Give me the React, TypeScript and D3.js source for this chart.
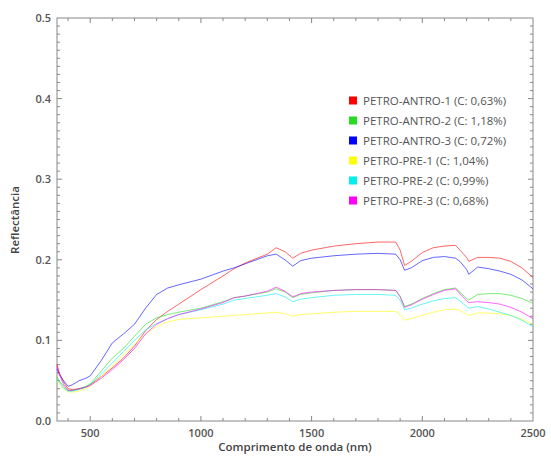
import React, { useEffect, useRef } from "react";
import * as d3 from "d3";

const wavelengths = [350, 360, 380, 400, 420, 450, 480, 500, 550, 600, 650, 700, 750, 800, 850, 900, 1000, 1100, 1150, 1200, 1300, 1340, 1380, 1415, 1450, 1500, 1600, 1700, 1800, 1880, 1900, 1920, 1950, 2000, 2050, 2100, 2150, 2170, 2200, 2210, 2250, 2300, 2350, 2400, 2450, 2500];

const antro1 = [0.07, 0.06, 0.048, 0.04, 0.039, 0.04, 0.042, 0.045, 0.055, 0.066, 0.078, 0.093, 0.112, 0.126, 0.136, 0.145, 0.163, 0.18, 0.189, 0.196, 0.207, 0.215, 0.21, 0.202, 0.208, 0.212, 0.217, 0.22, 0.222, 0.222, 0.212, 0.193, 0.198, 0.209, 0.215, 0.217, 0.218, 0.212, 0.203, 0.198, 0.203, 0.203, 0.202, 0.198, 0.19, 0.178];
const antro2 = [0.055, 0.05, 0.043, 0.038, 0.038, 0.04, 0.043, 0.046, 0.062, 0.078, 0.09, 0.105, 0.12, 0.128, 0.132, 0.135, 0.14, 0.148, 0.153, 0.155, 0.16, 0.164, 0.16, 0.153, 0.157, 0.159, 0.162, 0.163, 0.163, 0.162, 0.155, 0.142, 0.145, 0.152, 0.158, 0.163, 0.165, 0.16, 0.152, 0.15, 0.157, 0.158, 0.158, 0.156, 0.152, 0.146];
const antro3 = [0.065, 0.058, 0.05, 0.043, 0.045, 0.05, 0.053, 0.056, 0.075, 0.097, 0.108, 0.12, 0.14, 0.157, 0.165, 0.169, 0.176, 0.186, 0.19, 0.195, 0.205, 0.207, 0.2, 0.192, 0.199, 0.202, 0.205, 0.207, 0.208, 0.207, 0.2, 0.187, 0.19, 0.199, 0.203, 0.204, 0.202, 0.198, 0.188, 0.182, 0.191, 0.189, 0.186, 0.182, 0.175, 0.164];
const pre1 = [0.05, 0.046, 0.04, 0.036, 0.036, 0.037, 0.04, 0.043, 0.055, 0.068, 0.082, 0.095, 0.108, 0.117, 0.123, 0.126, 0.128, 0.13, 0.131, 0.132, 0.134, 0.135, 0.133, 0.13, 0.132, 0.133, 0.135, 0.136, 0.136, 0.136, 0.132, 0.125, 0.127, 0.131, 0.135, 0.138, 0.139, 0.137, 0.133, 0.131, 0.134, 0.134, 0.133, 0.131, 0.126, 0.12];
const pre2 = [0.052, 0.048, 0.041, 0.037, 0.037, 0.039, 0.042, 0.045, 0.058, 0.072, 0.086, 0.1, 0.113, 0.121, 0.127, 0.132, 0.138, 0.145, 0.15, 0.152, 0.156, 0.158, 0.154, 0.148, 0.151, 0.153, 0.156, 0.157, 0.157, 0.156, 0.15, 0.138, 0.14, 0.145, 0.149, 0.152, 0.153, 0.149, 0.142, 0.14, 0.142, 0.139, 0.135, 0.131, 0.125, 0.117];
const pre3 = [0.068, 0.058, 0.045, 0.038, 0.038, 0.04, 0.042, 0.044, 0.053, 0.064, 0.076, 0.09, 0.108, 0.12, 0.127, 0.132, 0.139, 0.147, 0.153, 0.155, 0.161, 0.166, 0.161, 0.154, 0.158, 0.16, 0.162, 0.163, 0.163, 0.162, 0.154, 0.141, 0.144, 0.151, 0.157, 0.162, 0.164, 0.158, 0.149, 0.147, 0.148, 0.147, 0.145, 0.141, 0.135, 0.127];

const seriesNames = ["PETRO-ANTRO-1 (C: 0,63%)", "PETRO-ANTRO-2 (C: 1,18%)", "PETRO-ANTRO-3 (C: 0,72%)", "PETRO-PRE-1 (C: 1,04%)", "PETRO-PRE-2 (C: 0,99%)", "PETRO-PRE-3 (C: 0,68%)"];
const seriesValues = [antro1, antro2, antro3, pre1, pre2, pre3];
const colors = ["#ff0000", "#22dd22", "#0000ff", "#ffff00", "#00eeee", "#ff00ff"];

const xTicks = [500, 1000, 1500, 2000, 2500];
const yTicks = [0, 0.1, 0.2, 0.3, 0.4, 0.5];

export default function App() {
  const ref = useRef<SVGSVGElement>(null);

  useEffect(() => {
    const svg = d3.select(ref.current);
    svg.selectAll("*").remove();

    const left = 57, right = 533, top = 18, bottom = 421;
    const x = d3.scaleLinear().domain([350, 2500]).range([left, right]);
    const y = d3.scaleLinear().domain([0, 0.5]).range([bottom, top]);
    const font = "'Open Sans', sans-serif";
    const axisColor = "#888";

    // frame
    svg.append("rect")
      .attr("x", left).attr("y", top)
      .attr("width", right - left).attr("height", bottom - top)
      .attr("fill", "none").attr("stroke", axisColor).attr("stroke-width", 1);

    // ticks on all four sides, pointing inward
    const g = svg.append("g").attr("stroke", axisColor).attr("stroke-width", 1);
    d3.range(400, 2500, 100).forEach((v) => {
      const len = v % 500 === 0 ? 5 : 3;
      g.append("line").attr("x1", x(v)).attr("x2", x(v)).attr("y1", bottom).attr("y2", bottom - len);
      g.append("line").attr("x1", x(v)).attr("x2", x(v)).attr("y1", top).attr("y2", top + len);
    });
    d3.range(1, 50).forEach((i) => {
      const v = i / 100;
      const len = i % 10 === 0 ? 5 : 3;
      g.append("line").attr("x1", left).attr("x2", left + len).attr("y1", y(v)).attr("y2", y(v));
      g.append("line").attr("x1", right).attr("x2", right - len).attr("y1", y(v)).attr("y2", y(v));
    });

    svg.selectAll(".xt").data(xTicks).enter().append("text")
      .attr("x", (d) => x(d)).attr("y", 437)
      .attr("text-anchor", "middle")
      .attr("font-family", font).attr("font-size", 11).attr("font-weight", 600)
      .attr("fill", "#555").text((d) => d);

    svg.selectAll(".yt").data(yTicks).enter().append("text")
      .attr("x", 51).attr("y", (d) => y(d) + 4)
      .attr("text-anchor", "end")
      .attr("font-family", font).attr("font-size", 11).attr("font-weight", 600)
      .attr("fill", "#555").text((d) => d.toFixed(1));

    svg.append("text")
      .attr("x", (left + right) / 2).attr("y", 451)
      .attr("text-anchor", "middle")
      .attr("font-family", font).attr("font-size", 11.5).attr("font-weight", 600)
      .attr("fill", "#444").text("Comprimento de onda (nm)");

    svg.append("text")
      .attr("transform", `translate(19, 220) rotate(-90)`)
      .attr("text-anchor", "middle")
      .attr("font-family", font).attr("font-size", 11.5).attr("font-weight", 600)
      .attr("fill", "#444").text("Reflectância");

    const line = d3.line<number>()
      .x((d, i) => x(wavelengths[i]))
      .y((d) => y(d));

    seriesValues.forEach((vals, k) => {
      svg.append("path")
        .datum(vals)
        .attr("d", line)
        .attr("fill", "none")
        .attr("stroke", colors[k])
        .attr("stroke-opacity", 0.6)
        .attr("stroke-width", 1);
    });

    const legend = svg.append("g");
    seriesNames.forEach((name, k) => {
      const ly = 100.5 + k * 20;
      legend.append("rect")
        .attr("x", 349).attr("y", ly - 4).attr("width", 8).attr("height", 8)
        .attr("fill", colors[k]);
      legend.append("text")
        .attr("x", 363).attr("y", ly + 4)
        .attr("font-family", font).attr("font-size", 11.5)
        .attr("fill", "#555").text(name);
    });
  }, []);

  return (
    <div>
      <svg ref={ref} width={551} height={459} style={{ position: "absolute", left: 0, top: 0 }}></svg>
    </div>
  );
}
